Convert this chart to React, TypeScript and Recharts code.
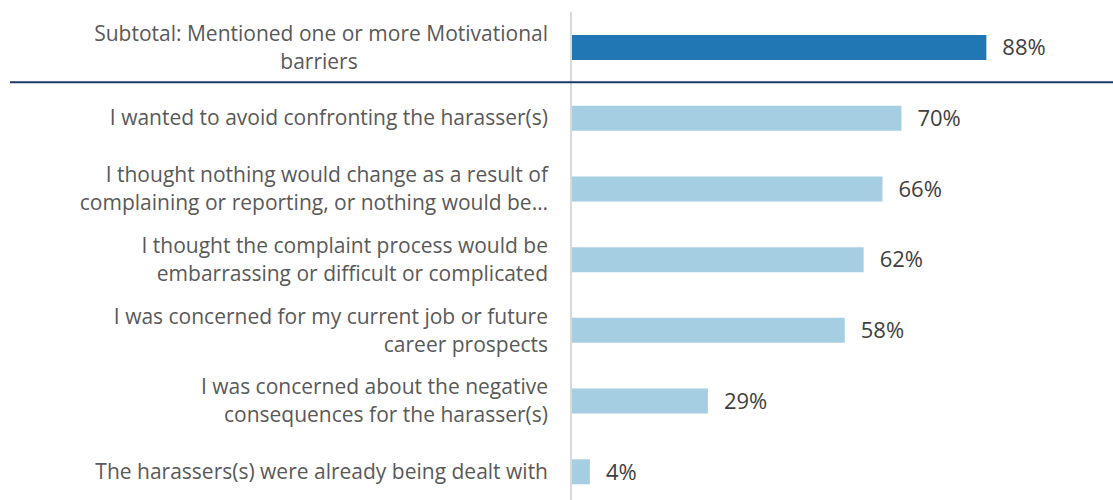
import React from 'react';
import { BarChart, Bar, XAxis, YAxis, Cell, LabelList } from 'recharts';

const categories = [
  'Subtotal: Mentioned one or more Motivational barriers',
  'I wanted to avoid confronting the harasser(s)',
  'I thought nothing would change as a result of complaining or reporting, or nothing would be…',
  'I thought the complaint process would be embarrassing or difficult or complicated',
  'I was concerned for my current job or future career prospects',
  'I was concerned about the negative consequences for the harasser(s)',
  'The harassers(s) were already being dealt with',
];

// wrapped lines of each category label
const tickLines = [
  ['Subtotal: Mentioned one or more Motivational', 'barriers'],
  ['I wanted to avoid confronting the harasser(s)'],
  ['I thought nothing would change as a result of', 'complaining or reporting, or nothing would be…'],
  ['I thought the complaint process would be', 'embarrassing or difficult or complicated'],
  ['I was concerned for my current job or future', 'career prospects'],
  ['I was concerned about the negative', 'consequences for the harasser(s)'],
  ['The harassers(s) were already being dealt with'],
];

const values = [88, 70, 66, 62, 58, 29, 4];

const data = categories.map((name, i) => ({ name, value: values[i] }));

const FONT = '"Open Sans", sans-serif';

const CategoryTick = (props: any) => {
  const { y, payload, index } = props;
  const lines = tickLines[index] || [payload.value];
  const lh = 28;
  const start = y - ((lines.length - 1) * lh) / 2;
  return (
    <g>
      {lines.map((t: string, i: number) => {
        // the subtotal's second line is centred under the first one
        const centred = index === 0 && i === 1;
        return (
          <text
            key={i}
            x={centred ? 319 : 548}
            y={start + i * lh}
            dy="0.35em"
            textAnchor={centred ? 'middle' : 'end'}
            fill="#595959"
            fontSize={21}
            fontFamily={FONT}
          >
            {t}
          </text>
        );
      })}
      {index === 0 && (
        <line x1={10} x2={1113} y1={y + 35} y2={y + 35} stroke="#1f3864" strokeWidth={2} />
      )}
    </g>
  );
};

export default function App() {
  return (
    <div style={{ position: 'absolute', left: 0, top: 0 }}>
      <BarChart
        width={1113}
        height={507}
        data={data}
        layout="vertical"
        margin={{ top: 12, right: 70, bottom: 0, left: 0 }}
        barCategoryGap={0}
      >
        <XAxis type="number" domain={[0, 100]} hide />
        <YAxis
          type="category"
          dataKey="name"
          width={571}
          axisLine={{ stroke: '#d9d9d9', strokeWidth: 2 }}
          tickLine={false}
          interval={0}
          tick={<CategoryTick />}
        />
        <Bar dataKey="value" barSize={25} isAnimationActive={false}>
          {data.map((d, i) => (
            <Cell key={i} fill={i === 0 ? '#2077b4' : '#a6cee3'} />
          ))}
          <LabelList
            dataKey="value"
            position="right"
            offset={16}
            formatter={(v: any) => `${v}%`}
            style={{ fill: '#404040', fontSize: 22, fontFamily: FONT }}
          />
        </Bar>
      </BarChart>
    </div>
  );
}
